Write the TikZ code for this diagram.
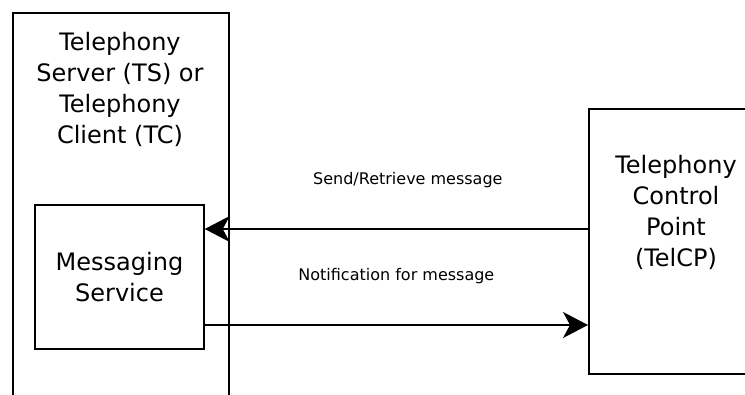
\documentclass[tikz,border=0pt]{standalone}
\usepackage{fontspec}
\setmainfont{DejaVu Sans}
\usetikzlibrary{arrows.meta,positioning}

\begin{document}
\begin{tikzpicture}[x=1pt, y=-1pt, box/.style = {draw, line width=1.5pt, inner sep=0pt}, txt/.style = {align=center, font=\fontsize{24}{31}\selectfont}, lbl/.style = {font=\fontsize{16}{19}\selectfont}, arr/.style = {-{Stealth[length=25pt, width=26pt, inset=7pt]}, line width=1.5pt}]
    \clip (0,0) rectangle (745,394);
    \node[box, minimum width=216, minimum height=400, anchor=north west] (ts) at (12,12) {};
    \node[txt] (tstext) at (120,89) {Telephony\\Server (TS) or\\Telephony\\Client (TC)};
    \node[box, txt, minimum width=169, minimum height=144] (ms) at (119.5,277) {Messaging\\Service};
    \node[box, minimum width=176, minimum height=265, anchor=north west] (telcp) at (588,108) {};
    \node[txt] (telcptext) at (676,212) {Telephony\\Control\\Point\\(TelCP)};
    \draw[arr] ([yshift=48pt]ms.east -| telcp.west) to node[lbl, above=37pt, pos=0.47] (send) {Send/Retrieve message} ([yshift=48pt]ms.east);
    \draw[arr] ([yshift=-48pt]ms.east) to node[lbl, above=37pt, pos=0.5] (notif) {Notification for message} ([yshift=-48pt]ms.east -| telcp.west);
\end{tikzpicture}
\end{document}
